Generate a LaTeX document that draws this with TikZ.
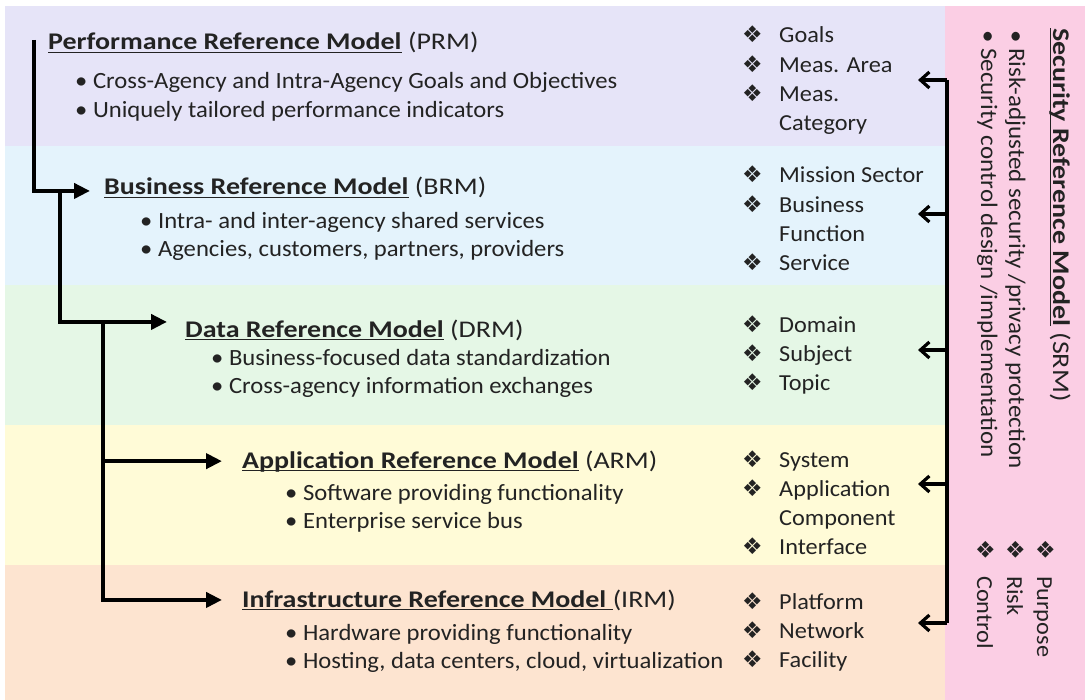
\documentclass[tikz,border=0pt]{standalone}
\usepackage{fontspec}
\setmainfont[FakeStretch=1.06]{Carlito}
\newfontfamily\tfont[FakeStretch=1.17]{Carlito}
\newfontfamily\symfont{DejaVu Sans}
\usetikzlibrary{arrows.meta}
\newcommand{\myul}[1]{\setbox0\hbox{#1}\rlap{\rule[-3.4pt]{\wd0}{1.3pt}}\box0}
\definecolor{bPRM}{RGB}{230,228,248}
\definecolor{bBRM}{RGB}{228,243,252}
\definecolor{bDRM}{RGB}{229,247,230}
\definecolor{bARM}{RGB}{255,251,215}
\definecolor{bIRM}{RGB}{253,228,208}
\definecolor{bSRM}{RGB}{251,206,228}
\definecolor{ink}{RGB}{35,35,35}
\newcommand{\dia}{{\symfont\fontsize{23}{23}\selectfont ❖}}
\newcommand{\di}{\makebox[37bp][l]{\dia}}
\newcommand{\nodi}{\hspace*{37bp}}
\begin{document}
\begin{tikzpicture}[x=1bp,y=-1bp,
  title/.style={anchor=base west, inner sep=0pt, text=ink, font=\tfont\fontsize{24}{28}\selectfont},
  bullets/.style={anchor=base west, inner sep=0pt, text=ink, font=\fontsize{23.35}{29}\selectfont},
  rlist/.style={anchor=base west, inner sep=0pt, text=ink, font=\fontsize{23}{29.3}\selectfont},
  srmtxt/.style={anchor=base west, inner sep=0pt, text=ink, rotate=-90, font=\fontsize{23.7}{28}\selectfont},
  larr/.style={line width=4bp, draw=black, line join=miter, -{Triangle[length=16bp,width=15bp]}},
  rline/.style={line width=3.2bp, draw=black, line join=miter},
  rarr/.style={line width=3.2bp, draw=black, -{Straight Barb[length=9bp,width=16bp]}}
]
\useasboundingbox (0,0) rectangle (1085,700);
\fill[white] (0,0) rectangle (1085,700);
% bands
\fill[bPRM] (5,6) rectangle (945,146);
\fill[bBRM] (5,146) rectangle (945,285);
\fill[bDRM] (5,285) rectangle (945,425);
\fill[bARM] (5,425) rectangle (945,565);
\fill[bIRM] (5,565) rectangle (945,700);
\fill[bSRM] (945,6) rectangle (1085,700);

% titles
\node[title] (prm) at (48,50) {\textbf{\myul{Performance Reference Model}} (PRM)};
\node[title] (brm) at (104,195) {\textbf{\myul{Business Reference Model}} (BRM)};
\node[title] (drm) at (185,337) {\textbf{\myul{Data Reference Model}} (DRM)};
\node[title] (arm) at (242,468) {\textbf{\myul{Application Reference Model}} (ARM)};
\node[title] (irm) at (242,607) {\textbf{\myul{Infrastructure Reference Model\ }}(IRM)};

% bullets
\node[bullets] (prmb) at (75,89) {\begin{tabular}[t]{@{}l@{}}• Cross-Agency and Intra-Agency Goals and Objectives\\ • Uniquely tailored performance indicators\end{tabular}};
\node[bullets] (brmb) at (140,228) {\begin{tabular}[t]{@{}l@{}}• Intra- and inter-agency shared services\\ • Agencies, customers, partners, providers\end{tabular}};
\node[bullets] (drmb) at (211,365) {\begin{tabular}[t]{@{}l@{}}• Business-focused data standardization\\ • Cross-agency information exchanges\end{tabular}};
\node[bullets] (armb) at (285,500) {\begin{tabular}[t]{@{}l@{}}• Software providing functionality\\ • Enterprise service bus\end{tabular}};
\node[bullets] (irmb) at (285,640) {\begin{tabular}[t]{@{}l@{}}• Hardware providing functionality\\ • Hosting, data centers, cloud, virtualization\end{tabular}};

% right lists
\node[rlist] (lprm) at (742,43) {\begin{tabular}[t]{@{}l@{}}\di Goals\\ \di Meas. Area\\ \di Meas.\\ \nodi Category\end{tabular}};
\node[rlist] (lbrm) at (742,183) {\begin{tabular}[t]{@{}l@{}}\di Mission Sector\\ \di Business\\ \nodi Function\\ \di Service\end{tabular}};
\node[rlist] (ldrm) at (742,332) {\begin{tabular}[t]{@{}l@{}}\di Domain\\ \di Subject\\ \di Topic\end{tabular}};
\node[rlist] (larm) at (742,467) {\begin{tabular}[t]{@{}l@{}}\di System\\ \di Application\\ \nodi Component\\ \di Interface\end{tabular}};
\node[rlist] (lirm) at (742,609) {\begin{tabular}[t]{@{}l@{}}\di Platform\\ \di Network\\ \di Facility\end{tabular}};

% SRM panel
\node[srmtxt, font=\tfont\fontsize{24}{28}\selectfont] (srm) at (1053,28) {\textbf{\myul{Security Reference Model}} (SRM)};
\node[srmtxt] (srmb) at (1009,30) {\begin{tabular}[t]{@{}l@{}}• Risk-adjusted security /privacy protection\\ • Security control design /implementation\end{tabular}};
\node[srmtxt, font=\fontsize{23}{30}\selectfont] (srml) at (1037,539) {\begin{tabular}[t]{@{}l@{}}\di Purpose\\ \di Risk\\ \di Control\end{tabular}};

% left connectors
\coordinate (s1) at (34,40);
\coordinate (j2) at (60,190);
\coordinate (j3) at (103,323);
\draw[larr] (s1) |- ([xshift=-14bp,yshift=-3bp]brm.west);
\draw[larr] (j2) |- ([xshift=-18bp,yshift=8bp]drm.west);
\draw[larr] (j3) |- ([xshift=-20bp]arm.west);
\draw[larr] (j3) |- ([xshift=-20bp]irm.west);

% right connectors
\coordinate (vtop) at (947,80);
\coordinate (vbot) at (947,623);
\coordinate (t1) at (918,80);
\coordinate (t2) at (918,214);
\coordinate (t3) at (918,350);
\coordinate (t4) at (918,484);
\coordinate (t5) at (918,623);
\draw[rline] (vtop) -- (vbot);
\foreach \i in {1,...,5}{\draw[rarr] (t\i -| vtop) -- (t\i);}
\end{tikzpicture}
\end{document}
